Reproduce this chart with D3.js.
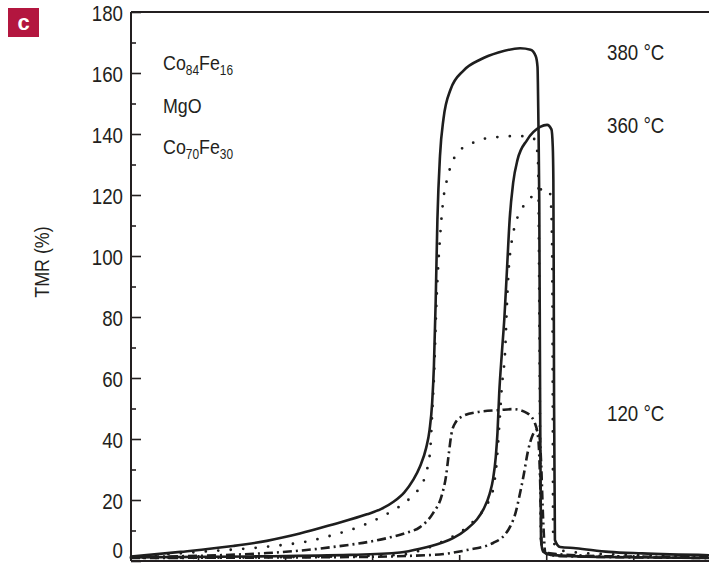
<!DOCTYPE html>
<html>
<head>
<meta charset="utf-8">
<script src="https://cdn.jsdelivr.net/npm/d3@7"></script>
<style>
  html, body { margin: 0; padding: 0; background: #fff; }
  svg { display: block; }
  text { font-family: "Liberation Sans", Arial, sans-serif; fill: #231f20; }
</style>
</head>
<body>
<svg id="chart" width="709" height="563"></svg>
<script>
// ---- data (field in arbitrary units, TMR in %) ----
const yTicks = [0, 20, 40, 60, 80, 100, 120, 140, 160, 180];
const yMinorTicks = [10, 30, 50, 70, 90, 110, 130, 150, 170];
const xTicks = [-400, -300, -200, -100, 0, 100];

const solid380 = [[-477,1.5],[-420,3],[-360,4.9],[-321,6.6],[-283,9],[-245,12],[-206,15.3],[-190,17],[-175,19.5],[-163,22.5],[-153,26.5],[-145,31],[-138,37],[-134,43],[-131,52],[-129,64],[-127,85],[-125,112],[-122,133],[-118,145],[-110,154.5],[-95,160.8],[-75,164.5],[-55,166.7],[-30,168.1],[-18,167.6],[-12,165.5],[-10,162],[-9,144.6],[-8,118.4],[-7,52.8],[-6,6.9],[-3.5,3],[5,2],[62,1.3],[187,1]];
const solid360 = [[-477,1.2],[-340,1.5],[-225,2],[-168,2.8],[-145,4],[-120,6],[-107,7.5],[-91,10.5],[-80,13.5],[-72,17],[-65,22],[-61,27],[-58,34],[-56,42],[-54,55],[-51,68],[-48,80],[-45,96],[-42,112],[-38,124],[-33,131.5],[-22,138],[-7,142.3],[1,143],[6,141.5],[7.5,136],[8.2,125],[8.6,96.4],[9,52.8],[10,6.9],[16,4.6],[34,4.2],[72,3],[110,2.5],[187,1.9]];
const dotted1 = [[-477,1.3],[-398,3],[-317,4.8],[-275,6.4],[-245,8.5],[-214,11.3],[-187,14.8],[-171,17.4],[-156,20.7],[-145,24.3],[-137,29.8],[-133,37.4],[-131,48.5],[-129,60],[-126,85.6],[-122,106],[-118,119],[-114,125],[-110,129.2],[-102,133.8],[-87,136.7],[-72,138.4],[-56,139],[-44,139.3],[-28,139.3],[-15,138.7],[-10,133.8],[-9,126],[-8,85.6],[-7,36.4],[-6,6.9],[-1,3],[16,2],[108,1.3],[187,1]];
const dotted2 = [[-477,1],[-283,1.3],[-168,2],[-145,3.4],[-118,6.5],[-95,10.2],[-79,14.4],[-67,19],[-61,23.5],[-57,32],[-54,44],[-51,57],[-47,70],[-45,85],[-43,96],[-40,104],[-36,110],[-30,114.4],[-18,119],[-9,121.6],[0,122],[4,121],[5.5,117],[6.5,108],[7,96.4],[7.5,52.8],[8,6.9],[14,3.6],[62,2.3],[187,1.6]];
const dashdot1 = [[-477,1.3],[-321,2.6],[-245,4.6],[-183,7.5],[-160,9.3],[-145,11.1],[-130,15.7],[-120,21.5],[-115,28],[-112,35],[-109,41.5],[-104,45.5],[-95,47.6],[-80,48.8],[-53,49.5],[-38,49.8],[-22,48.5],[-13,45.2],[-9,39.7],[-7,26.6],[-5,4.6],[2,2.6],[62,1.6],[187,1.3]];
const dashdot2 = [[-477,1],[-225,1.3],[-130,2],[-91,3.6],[-61,5.9],[-48,8.5],[-41,11.5],[-35,16],[-31,21],[-26,28],[-21,36],[-16,41],[-12,42.8],[-10,43],[-8,42],[-6,33.1],[-3.5,13.4],[-1,2.6],[16,1.6],[187,1]];

const tempLabels = ["380 °C", "360 °C", "120 °C"];
const tempLabelY = [167, 143, 48.5];

// ---- layout ----
const svg = d3.select("#chart");
const mLeft = 131, mRight = 709, mTop = 12, mBottom = 561;
const SX = 0.85; // condensed look
const x = d3.scaleLinear().domain([-477, 187]).range([mLeft, mRight]);
const y = d3.scaleLinear().domain([0, 180]).range([mBottom, mTop]);

// panel label
svg.append("rect").attr("x", 8).attr("y", 8).attr("width", 31).attr("height", 29).attr("fill", "#b3163f");
svg.append("text").attr("x", 23.5).attr("y", 30).attr("text-anchor", "middle")
  .style("font-weight", "bold").style("font-size", "22px").style("fill", "#fff").text("c");

// frame
svg.append("line").attr("x1", mLeft).attr("x2", mRight).attr("y1", mTop).attr("y2", mTop)
  .attr("stroke", "#231f20").attr("stroke-width", 2);

// y axis
const yAxis = d3.axisRight(y).tickValues(yTicks).tickSize(10).tickFormat(d3.format("d"));
const gy = svg.append("g").attr("transform", `translate(${mLeft},0)`).call(yAxis);
gy.select(".domain").attr("stroke", "#231f20").attr("stroke-width", 2).attr("d", `M0,${mTop}V${mBottom}`);
gy.selectAll(".tick line").attr("stroke", "#231f20").attr("stroke-width", 1.6);
gy.selectAll(".tick text")
  .attr("x", 0).attr("dy", null)
  .attr("transform", d => `translate(-8,${d === 0 ? -3.5 : 8}) scale(${SX},1)`)
  .attr("text-anchor", "end")
  .style("font-size", "22px").attr("fill", "#231f20");
const yMinor = d3.axisRight(y).tickValues(yMinorTicks).tickSize(5).tickFormat("");
const gym = svg.append("g").attr("transform", `translate(${mLeft},0)`).call(yMinor);
gym.select(".domain").remove();
gym.selectAll(".tick line").attr("stroke", "#231f20").attr("stroke-width", 1.6);

// x axis (ticks inward, no labels)
const xAxis = d3.axisTop(x).tickValues(xTicks).tickSize(6).tickFormat("");
const gx = svg.append("g").attr("transform", `translate(0,${mBottom})`).call(xAxis);
gx.select(".domain").attr("stroke", "#231f20").attr("stroke-width", 2).attr("d", `M${mLeft},0H${mRight}`);
gx.selectAll(".tick line").attr("stroke", "#231f20").attr("stroke-width", 1.6);

// y title
svg.append("text").attr("transform", `translate(49,262) rotate(-90) scale(${SX},1)`).attr("text-anchor", "middle")
  .style("font-size", "21px").text("TMR (%)");

// curves
const line = d3.line().x(d => x(d[0])).y(d => y(d[1])).curve(d3.curveMonotoneX);
const plot = svg.append("g");
const series = [
  { data: dashdot2, dash: "9 4 2 4", w: 2.6, cap: "butt" },
  { data: dashdot1, dash: "9 4 2 4", w: 2.6, cap: "butt" },
  { data: dotted2, dash: "0 12.5", w: 2.8, cap: "round" },
  { data: dotted1, dash: "0 12.5", w: 2.8, cap: "round" },
  { data: solid360, dash: null, w: 2.6, cap: "butt" },
  { data: solid380, dash: null, w: 2.6, cap: "butt" }
];
series.forEach(s => {
  plot.append("path").datum(s.data).attr("d", line)
    .attr("fill", "none").attr("stroke", "#1e1e1e").attr("stroke-width", s.w)
    .attr("stroke-linecap", s.cap).attr("stroke-linejoin", "round")
    .attr("stroke-dasharray", s.dash);
});

// annotations
const ann = svg.append("g").style("font-size", "21px");
function condensed(px, py) {
  return ann.append("text").attr("transform", `translate(${px},${py}) scale(${SX},1)`);
}
function sub(parts, px, py) {
  const el = condensed(px, py);
  parts.forEach(p => {
    if (p.s) el.append("tspan").attr("dy", 5).style("font-size", "14px").text(p.t);
    else el.append("tspan").attr("dy", p.back ? -5 : 0).text(p.t);
  });
}
sub([{t:"Co"},{t:"84",s:true},{t:"Fe",back:true},{t:"16",s:true}], 163, 70);
condensed(163, 113).text("MgO");
sub([{t:"Co"},{t:"70",s:true},{t:"Fe",back:true},{t:"30",s:true}], 163, 154);

const tl = svg.append("g").style("font-size", "22px");
tl.selectAll("text").data(tempLabels).join("text")
  .attr("transform", (d, i) => `translate(607,${y(tempLabelY[i]) + 8}) scale(${SX},1)`)
  .text(d => d);
</script>
</body>
</html>
